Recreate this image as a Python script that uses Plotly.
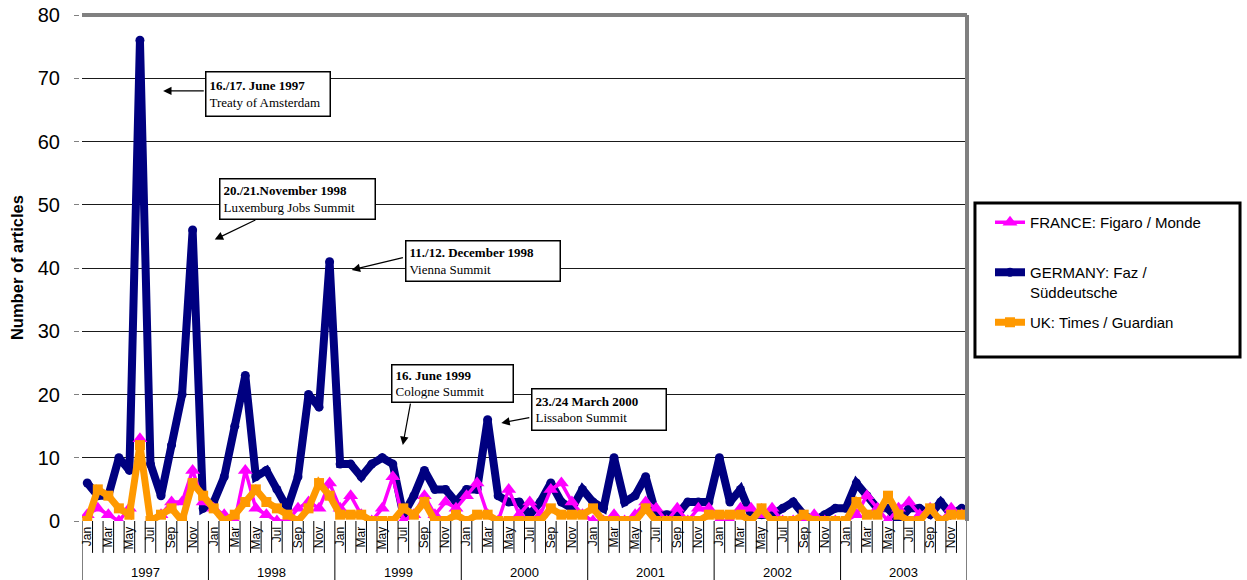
import plotly.graph_objects as go

years = ['1997', '1998', '1999', '2000', '2001', '2002', '2003']
months = ['Jan', 'Feb', 'Mar', 'Apr', 'May', 'Jun', 'Jul', 'Aug', 'Sep', 'Oct', 'Nov', 'Dec']

france = [1, 2, 1, 0, 2, 13, 0, 1, 3, 3, 8, 3,
          2, 1, 0, 8, 2, 1, 0, 0, 2, 3, 2, 6,
          2, 4, 1, 0, 2, 7, 0, 1, 4, 1, 3, 2,
          4, 6, 1, 0, 5, 1, 3, 1, 5, 6, 3, 1,
          0, 0, 1, 0, 1, 3, 2, 0, 2, 0, 2, 2,
          0, 0, 2, 2, 1, 2, 0, 0, 0, 1, 0, 0,
          0, 1, 4, 2, 0, 2, 3, 1, 2, 0, 2, 1]
germany = [6, 4, 4, 10, 8, 76, 9, 4, 12, 20, 46, 2,
           3, 7, 15, 23, 7, 8, 5, 2, 7, 20, 18, 41,
           9, 9, 7, 9, 10, 9, 1, 4, 8, 5, 5, 3,
           5, 5, 16, 4, 3, 3, 1, 3, 6, 3, 2, 5,
           3, 2, 10, 3, 4, 7, 1, 1, 1, 3, 3, 3,
           10, 3, 5, 1, 1, 1, 2, 3, 1, 0, 1, 2,
           2, 6, 4, 2, 2, 0, 2, 2, 1, 3, 1, 2]
uk = [0, 5, 4, 2, 1, 12, 0, 1, 2, 0, 6, 4,
      2, 0, 1, 3, 5, 3, 2, 1, 0, 2, 6, 4,
      1, 1, 1, 0, 0, 0, 2, 1, 3, 0, 0, 1,
      0, 1, 1, 0, 0, 0, 0, 0, 2, 1, 1, 1,
      2, 0, 0, 0, 0, 2, 0, 0, 0, 0, 0, 1,
      1, 1, 1, 0, 2, 0, 0, 0, 1, 0, 0, 0,
      0, 3, 1, 1, 4, 1, 0, 0, 2, 0, 1, 1]

events = [
    # (bold date, subtitle, box left x, box top y, box w px, box h px, arrow head x, y, arrow tail x, y)
    ('16./17. June 1997', 'Treaty of Amsterdam', 11.2, 71.1, 125, 45, 7.2, 68.0, 11.2, 68.0),
    ('20./21.November 1998', 'Luxemburg Jobs Summit', 12.5, 54.2, 156, 41, 12.1, 44.5, 16.1, 47.7),
    ('11./12. December 1998', 'Vienna Summit', 30.15, 44.4, 155, 41, 25.1, 39.7, 30.1, 41.7),
    ('16. June 1999', 'Cologne Summit', 28.8, 24.8, 122, 38, 29.95, 12.0, 30.7, 18.8),
    ('23./24 March 2000', 'Lissabon Summit', 42.1, 21.0, 135, 42, 39.3, 15.5, 42.1, 16.4),
]

n = len(years) * len(months)
xs = list(range(n))
sans = 'Liberation Sans, Arial, sans-serif'
serif = 'Liberation Serif, Times New Roman, serif'

fig = go.Figure()
fig.add_trace(go.Scatter(
    x=xs, y=france, name='FRANCE: Figaro / Monde<br> ', mode='lines+markers',
    line=dict(color='#FF00FF', width=3.5),
    marker=dict(symbol='triangle-up', size=13, color='#FF00FF'),
    legendgroup='f', zorder=1))
fig.add_trace(go.Scatter(
    x=xs, y=germany, name='GERMANY: Faz /<br>Süddeutsche', mode='lines+markers',
    line=dict(color='#000080', width=8),
    marker=dict(symbol='circle', size=9, color='#000080'),
    legendgroup='g', zorder=0))
fig.add_trace(go.Scatter(
    x=xs, y=uk, name='UK: Times / Guardian', mode='lines+markers',
    line=dict(color='#FF9900', width=7),
    marker=dict(symbol='square', size=10, color='#FF9900'),
    legendgroup='u', zorder=2))

ticktext = [months[i % 12] for i in range(0, n, 2)]
fig.update_xaxes(
    range=[-0.5, n - 0.5], tickmode='array', tickvals=list(range(0, n, 2)),
    ticktext=ticktext, tickangle=-90, ticks='', showgrid=False, zeroline=False,
    tickfont=dict(family=sans, size=12, color='black'), automargin=False,
    showline=True, linecolor='black', linewidth=1, layer='below traces')
fig.update_yaxes(
    range=[0, 80], dtick=10, showgrid=True, gridcolor='#1a1a1a', gridwidth=1,
    zeroline=False, ticks='outside', ticklen=5, tickcolor='#808080', automargin=False,
    tickfont=dict(family=sans, size=20, color='black'), ticklabelstandoff=10,
    showline=True, linecolor='#808080', linewidth=3)

shapes = []
# month cell dividers and year dividers below the axis
for i in range(n + 1):
    is_year = (i % 12 == 0)
    shapes.append(dict(type='line', xref='x', yref='paper', x0=i - 0.5, x1=i - 0.5,
                       y0=0, y1=-0.117 if is_year else -0.063,
                       line=dict(color='black', width=1)))
# top and right plot border
shapes.append(dict(type='line', xref='paper', yref='paper', x0=0, x1=1, y0=1, y1=1,
                   line=dict(color='#808080', width=4)))
shapes.append(dict(type='line', xref='paper', yref='paper', x0=1, x1=1, y0=0, y1=1,
                   line=dict(color='#808080', width=4)))
# legend frame
shapes.append(dict(type='rect', xref='paper', yref='paper', x0=1.009, x1=1.3085,
                   y0=0.324, y1=0.6285, line=dict(color='black', width=3)))

annotations = []
for k, yr in enumerate(years):
    annotations.append(dict(text=yr, xref='x', yref='paper', x=12 * k + 5.5, y=-0.101,
                            showarrow=False, yanchor='middle',
                            font=dict(family=sans, size=13, color='black')))
annotations.append(dict(text='<b>Number of articles</b>', xref='paper', yref='paper',
                        x=-0.0734, y=0.5, xanchor='center', yanchor='middle',
                        textangle=-90, showarrow=False,
                        font=dict(family=sans, size=16.5, color='black')))
for (d, s, bx, by, bw, bh, hx, hy, tx, ty) in events:
    annotations.append(dict(text='<b>' + d + '</b><br>' + s, xref='x', yref='y',
                            x=bx, y=by, xanchor='left', yanchor='top', showarrow=False,
                            align='left', valign='middle', width=bw - 8, height=bh - 8,
                            borderpad=3, bordercolor='black', borderwidth=1.5,
                            bgcolor='white',
                            font=dict(family=serif, size=13, color='black')))
    annotations.append(dict(text='', xref='x', yref='y', axref='x', ayref='y',
                            x=hx, y=hy, ax=tx, ay=ty, showarrow=True, arrowhead=2,
                            arrowsize=1.4, arrowwidth=1.2, arrowcolor='black'))

fig.update_layout(
    width=1247, height=580,
    margin=dict(l=82, r=280, t=15, b=59, autoexpand=False),
    paper_bgcolor='white', plot_bgcolor='white',
    showlegend=True,
    legend=dict(x=1.026, y=0.6225, xanchor='left', yanchor='top',
                bgcolor='rgba(0,0,0,0)', borderwidth=0, traceorder='grouped',
                tracegroupgap=8, valign='top', itemwidth=30,
                font=dict(family=sans, size=15, color='black')),
    shapes=shapes, annotations=annotations,
)

fig.write_html('out.html')
